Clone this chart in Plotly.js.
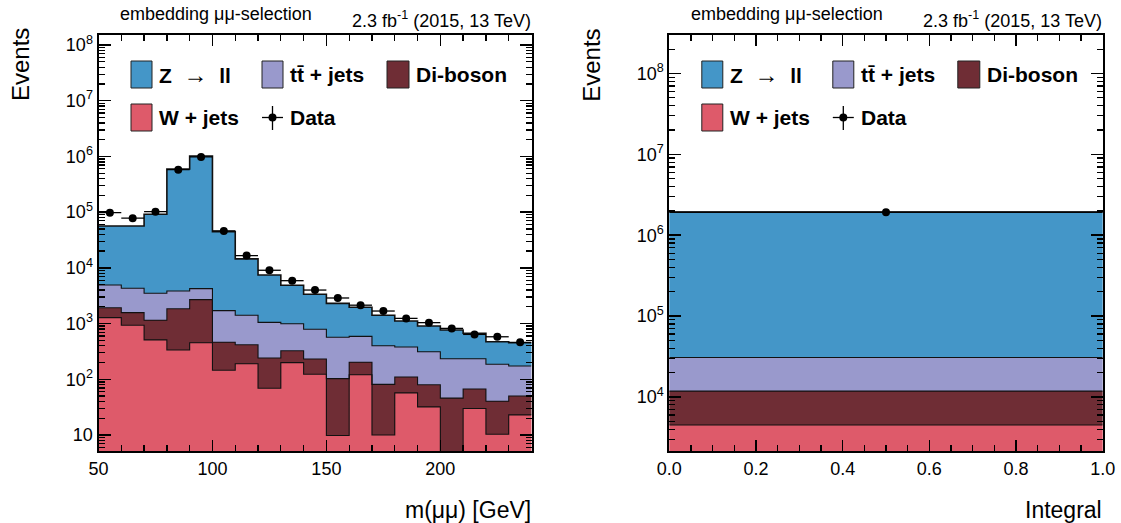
<!DOCTYPE html>
<html>
<head>
<meta charset="utf-8">
<script src="https://cdn.plot.ly/plotly-3.0.1.min.js"></script>
<style>
  html, body { margin: 0; padding: 0; background: #ffffff; }
  #chart { width: 1121px; height: 523px; }
</style>
</head>
<body>
<div id="chart"></div>
<script>
// ---------------- data ----------------
// m(mumu) histogram, bin centres [GeV] (bin width 10 GeV, 50-240 GeV)
const massBins = [55, 65, 75, 85, 95, 105, 115, 125, 135, 145, 155, 165, 175, 185, 195, 205, 215, 225, 235];
const wJets   = [1280, 935, 510, 336, 454, 145, 190, 69, 199, 123, 9.8, 121, 10, 57, 32, 0, 30, 10.3, 23];
const diboson = [650, 635, 640, 1510, 2240, 316, 228, 172, 127, 108, 93, 81, 71, 53, 48, 46, 37, 30, 27];
const ttJets  = [3000, 2730, 2350, 2000, 1550, 1250, 990, 810, 670, 560, 464, 388, 320, 270, 233, 188, 167, 146, 123];
const zll     = [51600, 52200, 88500, 593000, 1016000, 43000, 13100, 6410, 3870, 2570, 1740, 1370, 1010, 730, 593, 533, 436, 287, 281];
const dataMass = [98000, 78000, 102000, 580000, 980000, 46000, 16600, 9060, 5890, 4000, 2880, 2140, 1680, 1240, 1040, 820, 640, 580, 461];

// Integral (single bin 0-1)
const intBins = [0.5];
const intW    = [4500];
const intDB   = [7300];
const intTT   = [19000];
const intZ    = [1899000];
const intData = [1930000];

// y tick labels (decades)
const decadeExps = [1, 2, 3, 4, 5, 6, 7, 8];
const decadeLabels = ['10', '10<sup>2</sup>', '10<sup>3</sup>', '10<sup>4</sup>', '10<sup>5</sup>', '10<sup>6</sup>', '10<sup>7</sup>', '10<sup>8</sup>'];

// ---------------- styling ----------------
const colors = { z: '#4496c8', tt: '#9999cc', db: '#6f2d35', w: '#de5a6a' };
const FONT = 'Liberation Sans, Arial, Helvetica, sans-serif';
const W = 1121, H = 523;
const px = x => x / W;
const py = y => 1 - y / H;

const massWidth = 10;
const intWidth = 1;

function cumulative(arrs) {
  const out = [];
  let acc = arrs[0].map(() => 0);
  arrs.forEach(a => { acc = acc.map((v, i) => v + a[i]); out.push(acc.slice()); });
  return out;
}

function stepTrace(centers, width, tops, xa, ya, lw) {
  const xs = centers.map(c => c - width / 2);
  xs.push(centers[centers.length - 1] + width / 2);
  const ys = tops.map(v => Math.max(v, 1e-2));
  ys.push(ys[ys.length - 1]);
  return { type: 'scatter', mode: 'lines', x: xs, y: ys, xaxis: xa, yaxis: ya,
           line: { shape: 'hv', color: '#111111', width: lw }, hoverinfo: 'skip', showlegend: false };
}

function stackTraces(centers, width, comps, dataVals, xa, ya) {
  const names = ['W + jets', 'Di-boson', 'tt + jets', 'Z -> ll'];
  const cols = [colors.w, colors.db, colors.tt, colors.z];
  const traces = comps.map((c, i) => ({
    type: 'bar', x: centers, y: c, width: centers.map(() => width), name: names[i],
    xaxis: xa, yaxis: ya, marker: { color: cols[i], line: { width: 0 } }, showlegend: false
  }));
  const tops = cumulative(comps);
  tops.forEach((t, i) => traces.push(stepTrace(centers, width, t, xa, ya, i === 3 ? 1.6 : 1.1)));
  traces.push({
    type: 'scatter', mode: 'markers', x: centers, y: dataVals, xaxis: xa, yaxis: ya,
    marker: { color: 'black', size: 8 },
    error_x: { type: 'constant', value: width / 2, width: 0, color: 'black', thickness: 1.3 },
    showlegend: false
  });
  return traces;
}

const traces = [].concat(
  stackTraces(massBins, massWidth, [wJets, diboson, ttJets, zll], dataMass, 'x', 'y'),
  stackTraces(intBins, intWidth, [intW, intDB, intTT, intZ], intData, 'x2', 'y2')
);

// ---------------- axes ----------------
const yTop = 35, yBot = 451;
const leftX = [98.5, 531.5], rightX = [669.3, 1102.7];

function logMinorVals(lo, hi) {
  const v = [];
  for (let e = lo; e <= hi; e++) for (let d = 2; d <= 9; d++) v.push(d * Math.pow(10, e));
  return v;
}

function xAxis(domain, range, dtick, tick0, minorDtick, fmt, anchor) {
  return {
    domain: [px(domain[0]), px(domain[1])], range: range, anchor: anchor,
    showline: true, linecolor: 'black', linewidth: 2, mirror: 'allticks',
    ticks: 'inside', ticklen: 11, tickwidth: 1.5, tickcolor: 'black',
    dtick: dtick, tick0: tick0, tickformat: fmt,
    minor: { dtick: minorDtick, ticks: 'inside', ticklen: 6, tickwidth: 1.3, tickcolor: 'black', showgrid: false },
    showgrid: false, zeroline: false,
    tickfont: { family: FONT, size: 18, color: 'black' }, fixedrange: true
  };
}
function yAxis(range, anchor) {
  return {
    domain: [py(yBot), py(yTop)], type: 'log', range: range, anchor: anchor,
    showline: true, linecolor: 'black', linewidth: 2, mirror: 'allticks',
    ticks: 'inside', ticklen: 12, tickwidth: 1.5, tickcolor: 'black',
    tickmode: 'array',
    tickvals: decadeExps.map(e => Math.pow(10, e)),
    ticktext: decadeLabels,
    minor: { tickmode: 'array', tickvals: logMinorVals(0, 8), ticks: 'inside', ticklen: 6,
             tickwidth: 1.3, tickcolor: 'black', showgrid: false },
    showgrid: false, zeroline: false,
    tickfont: { family: FONT, size: 18, color: 'black' }, fixedrange: true
  };
}

// ---------------- decorations (legend, labels) ----------------
const shapes = [];
const annotations = [];
const LEG = 21;

function addPanelDecor(dx, xTitle) {
  const boxes = [
    { x0: 131, x1: 152, y0: 61, y1: 88, c: colors.z, t: '<b>Z  <span style="font-size:24px">\u2192</span>  ll</b>', tx: 157, ty: 74.5 },
    { x0: 262, x1: 283, y0: 61, y1: 88, c: colors.tt, t: '<b>tt\u0304 + jets</b>', tx: 288, ty: 74.5 },
    { x0: 387, x1: 409, y0: 61, y1: 88, c: colors.db, t: '<b>Di-boson</b>', tx: 414, ty: 74.5 },
    { x0: 131, x1: 152, y0: 104, y1: 131, c: colors.w, t: '<b>W + jets</b>', tx: 157, ty: 117.5 }
  ];
  boxes.forEach(b => {
    shapes.push({ type: 'rect', xref: 'paper', yref: 'paper',
      x0: px(b.x0 + dx), x1: px(b.x1 + dx), y0: py(b.y1), y1: py(b.y0),
      fillcolor: b.c, line: { color: '#222222', width: 1 } });
    annotations.push({ xref: 'paper', yref: 'paper', x: px(b.tx + dx), y: py(b.ty),
      xanchor: 'left', yanchor: 'middle', showarrow: false, text: b.t,
      font: { family: FONT, size: LEG, color: 'black' } });
  });
  // data legend symbol
  shapes.push({ type: 'line', xref: 'paper', yref: 'paper', x0: px(262 + dx), x1: px(283 + dx),
    y0: py(117.5), y1: py(117.5), line: { color: 'black', width: 1.3 } });
  shapes.push({ type: 'line', xref: 'paper', yref: 'paper', x0: px(272.5 + dx), x1: px(272.5 + dx),
    y0: py(106), y1: py(130), line: { color: 'black', width: 1.3 } });
  shapes.push({ type: 'circle', xref: 'paper', yref: 'paper', x0: px(268.5 + dx), x1: px(276.5 + dx),
    y0: py(121.5), y1: py(113.5), fillcolor: 'black', line: { color: 'black', width: 0 } });
  annotations.push({ xref: 'paper', yref: 'paper', x: px(288 + dx), y: py(117.5),
    xanchor: 'left', yanchor: 'middle', showarrow: false, text: '<b>Data</b>',
    font: { family: FONT, size: LEG, color: 'black' } });
  // top texts
  annotations.push({ xref: 'paper', yref: 'paper', x: px(118 + dx), y: py(14),
    xanchor: 'left', yanchor: 'middle', showarrow: false, text: 'embedding \u03bc\u03bc-selection',
    font: { family: FONT, size: 18, color: 'black' } });
  annotations.push({ xref: 'paper', yref: 'paper', x: px(533 + dx), y: py(19),
    xanchor: 'right', yanchor: 'middle', showarrow: false, text: '2.3 fb<sup>-1</sup> (2015, 13 TeV)',
    font: { family: FONT, size: 18, color: 'black' } });
  // axis titles
  annotations.push({ xref: 'paper', yref: 'paper', x: px(20 + dx), y: py(65),
    xanchor: 'center', yanchor: 'middle', showarrow: false, text: 'Events', textangle: -90,
    font: { family: FONT, size: 24, color: 'black' } });
  annotations.push({ xref: 'paper', yref: 'paper', x: px(533 + dx), y: py(510),
    xanchor: 'right', yanchor: 'middle', showarrow: false, text: xTitle,
    font: { family: FONT, size: 23, color: 'black' } });
}
addPanelDecor(0, 'm(\u03bc\u03bc) [GeV]');
addPanelDecor(570.8, 'Integral');

const layout = {
  width: W, height: H,
  margin: { l: 0, r: 0, t: 0, b: 0 },
  paper_bgcolor: 'white', plot_bgcolor: 'white',
  barmode: 'stack', bargap: 0, showlegend: false,
  font: { family: FONT, color: 'black' },
  xaxis: xAxis(leftX, [50, 240], 50, 50, 10, 'd', 'y'),
  yaxis: yAxis([0.713, 8.18], 'x'),
  xaxis2: xAxis(rightX, [0, 1], 0.2, 0, 0.05, '.1f', 'y2'),
  yaxis2: yAxis([3.332, 8.476], 'x2'),
  shapes: shapes,
  annotations: annotations
};

Plotly.newPlot('chart', traces, layout, { displayModeBar: false, staticPlot: true });
</script>
</body>
</html>
